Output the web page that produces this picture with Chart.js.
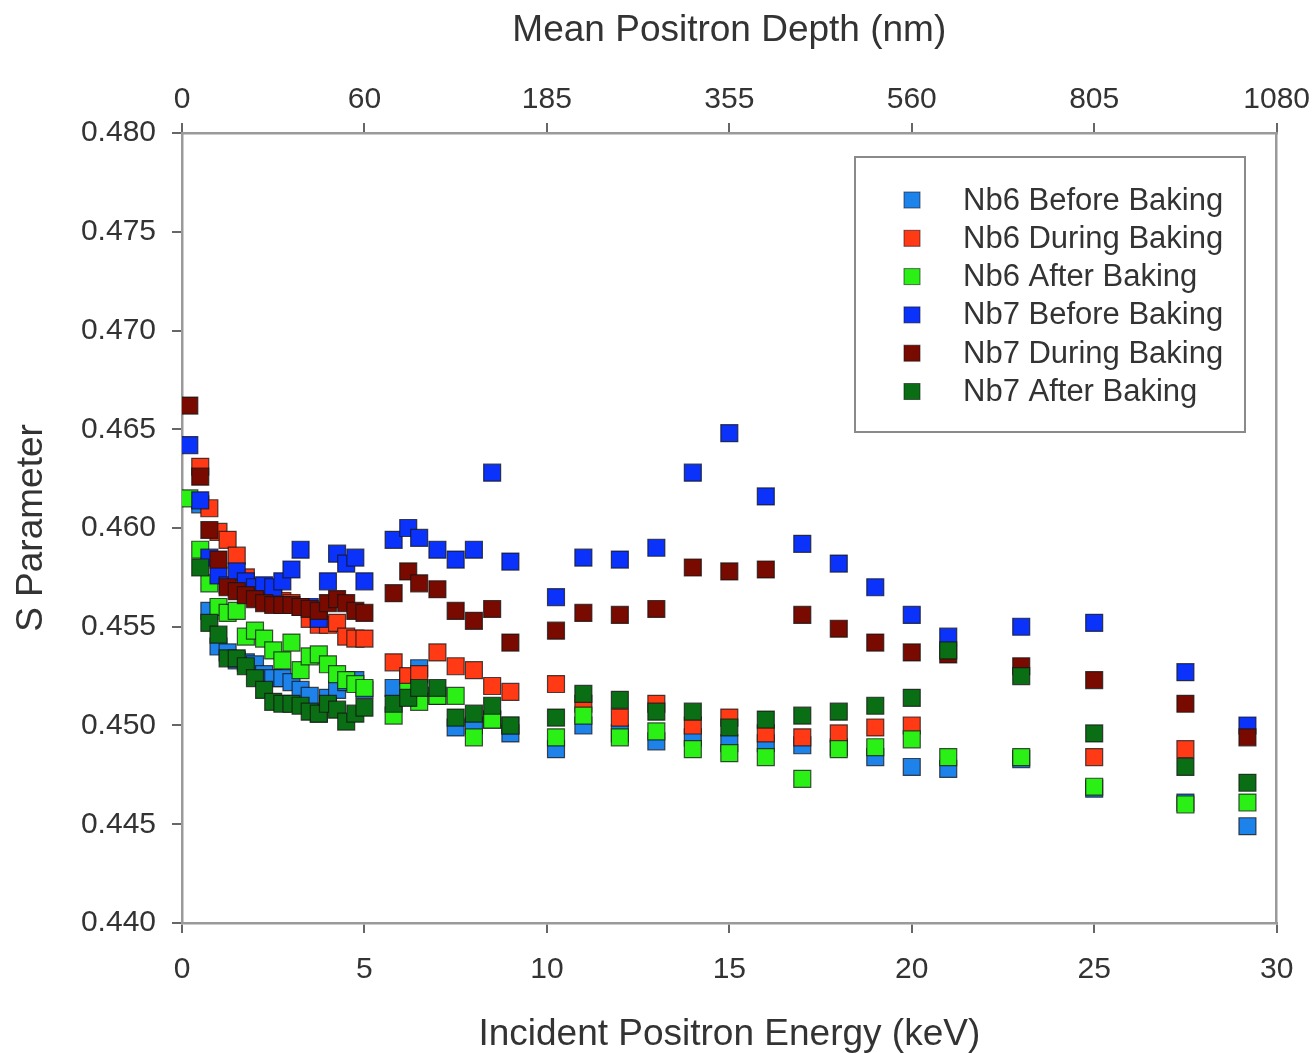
<!DOCTYPE html>
<html>
<head>
<meta charset="utf-8">
<script src="https://cdn.jsdelivr.net/npm/chart.js@4/dist/chart.umd.min.js"></script>
<style>
  html, body { margin: 0; padding: 0; background: #ffffff; }
  canvas { display: block; }
</style>
</head>
<body>
<canvas id="c" width="1315" height="1053"></canvas>
<script>
// ---- data ----
const energyKeV = [0.2, 0.5, 0.75, 1.0, 1.25, 1.5, 1.75, 2.0, 2.25, 2.5, 2.75, 3.0, 3.25, 3.5, 3.75, 4.0, 4.25, 4.5, 4.75, 5.0,
                   5.8, 6.2, 6.5, 7, 7.5, 8, 8.5, 9,
                   10.25, 11, 12, 13, 14, 15, 16, 17, 18, 19, 20, 21, 23, 25, 27.5, 29.2];

const xTickValues = [0, 5, 10, 15, 20, 25, 30];
const depthLabels = ['0', '60', '185', '355', '560', '805', '1080'];

const seriesNames = ['Nb6 Before Baking', 'Nb6 During Baking', 'Nb6 After Baking',
                     'Nb7 Before Baking', 'Nb7 During Baking', 'Nb7 After Baking'];

const nb6Before = [null, 0.4612, 0.4558, 0.4540, 0.4537, 0.4533, 0.4532, 0.4531, 0.4526, 0.4524, 0.4524, 0.4522, 0.4518, 0.4515, 0.4506, 0.4514, 0.4518, 0.4522, 0.4523, 0.4518,
                   0.4519, 0.4524, 0.4529, 0.4515, 0.4499, 0.4500, 0.4503, 0.4496,
                   0.4488, 0.4500, 0.4496, 0.4492, 0.4494, 0.4491, 0.4491, 0.4490, 0.4489, 0.4484, 0.4479, 0.4478, 0.4483, 0.4468, 0.4461, 0.4449];

const nb6During = [null, 0.4631, 0.4610, 0.4598, 0.4594, 0.4586, 0.4575, 0.4568, 0.4566, 0.4565, 0.4563, 0.4562, 0.4560, 0.4554, 0.4551, 0.4551, 0.4552, 0.4545, 0.4544, 0.4544,
                   0.4532, 0.4525, 0.4526, 0.4537, 0.4530, 0.4528, 0.4520, 0.4517,
                   0.4521, 0.4511, 0.4504, 0.4511, 0.4500, 0.4504, 0.4496, 0.4494, 0.4496, 0.4499, 0.4500, null, null, 0.4484, 0.4488, null];

const nb6After = [0.4615, 0.4589, 0.4572, 0.4560, 0.4557, 0.4558, 0.4545, 0.4548, 0.4544, 0.4538, 0.4533, 0.4542, 0.4528, 0.4535, 0.4536, 0.4531, 0.4526, 0.4523, 0.4521, 0.4519,
                  0.4505, 0.4517, 0.4512, 0.4515, 0.4515, 0.4494, 0.4503, 0.4500,
                  0.4494, 0.4505, 0.4494, 0.4497, 0.4488, 0.4486, 0.4484, 0.4473, 0.4488, 0.4489, 0.4493, 0.4484, 0.4484, 0.4469, 0.4460, 0.4461];

const nb7Before = [0.4642, 0.4614, 0.4585, 0.4576, 0.4571, 0.4578, 0.4573, 0.4570, 0.4571, 0.4570, 0.4573, 0.4579, 0.4589, 0.4560, 0.4554, 0.4573, 0.4587, 0.4582, 0.4585, 0.4573,
                   0.4594, 0.4600, 0.4595, 0.4589, 0.4584, 0.4589, 0.4628, 0.4583,
                   0.4565, 0.4585, 0.4584, 0.4590, 0.4628, 0.4648, 0.4616, 0.4592, 0.4582, 0.4570, 0.4556, 0.4545, 0.4550, 0.4552, 0.4527, 0.4500];

const nb7During = [0.4662, 0.4626, 0.4599, 0.4584, 0.4570, 0.4568, 0.4566, 0.4564, 0.4562, 0.4561, 0.4561, 0.4561, 0.4560, 0.4559, 0.4558, 0.4562, 0.4564, 0.4562, 0.4558, 0.4557,
                   0.4567, 0.4578, 0.4572, 0.4569, 0.4558, 0.4553, 0.4559, 0.4542,
                   0.4548, 0.4557, 0.4556, 0.4559, 0.4580, 0.4578, 0.4579, 0.4556, 0.4549, 0.4542, 0.4537, 0.4536, 0.4530, 0.4523, 0.4511, 0.4494];

const nb7After = [null, 0.4580, 0.4552, 0.4546, 0.4534, 0.4534, 0.4530, 0.4524, 0.4518, 0.4512, 0.4511, 0.4511, 0.4510, 0.4507, 0.4506, 0.4511, 0.4508, 0.4502, 0.4506, 0.4509,
                  0.4511, 0.4514, 0.4519, 0.4519, 0.4504, 0.4506, 0.4510, 0.4500,
                  0.4504, 0.4516, 0.4513, 0.4507, 0.4507, 0.4499, 0.4503, 0.4505, 0.4507, 0.4510, 0.4514, 0.4538, 0.4525, 0.4496, 0.4479, 0.4471];

// ---- styling ----
const seriesValues = [nb6Before, nb6During, nb6After, nb7Before, nb7During, nb7After];
const seriesColors = ['#1e82eb', '#ff3a14', '#2af016', '#0a32fa', '#780a00', '#0a6e14'];
const FONT = '"Liberation Sans", Arial, Helvetica, sans-serif';
const TEXT = '#333333';

function toPoints(values) {
  const pts = [];
  values.forEach((v, i) => { if (v !== null) pts.push({ x: energyKeV[i], y: v }); });
  return pts;
}

const datasets = seriesValues.map((vals, i) => ({
  label: seriesNames[i],
  data: toPoints(vals),
  backgroundColor: seriesColors[i],
  borderColor: 'rgba(20,20,20,0.75)',
  borderWidth: 1.2,
  pointStyle: 'rect',
  pointRadius: 12,
  pointHoverRadius: 12,
  order: seriesValues.length - 1 - i,
  xAxisID: 'x',
  yAxisID: 'y'
}));

const boxLegend = {
  id: 'boxLegend',
  afterDatasetsDraw(chart) {
    const ctx = chart.ctx;
    const ca = chart.chartArea;
    const bx = ca.left + 673, by = ca.top + 24, bw = 390, bh = 275;
    ctx.save();
    ctx.fillStyle = '#ffffff';
    ctx.fillRect(bx, by, bw, bh);
    ctx.strokeStyle = '#8a8a8a';
    ctx.lineWidth = 2;
    ctx.strokeRect(bx, by, bw, bh);
    ctx.font = '31px ' + FONT;
    ctx.textBaseline = 'middle';
    ctx.textAlign = 'left';
    chart.data.datasets.forEach((ds, i) => {
      const y = by + 43 + i * 38.3;
      const mx = bx + 57;
      ctx.fillStyle = ds.backgroundColor;
      ctx.fillRect(mx - 8, y - 8, 16, 16);
      ctx.strokeStyle = 'rgba(20,20,20,0.6)';
      ctx.lineWidth = 1;
      ctx.strokeRect(mx - 8, y - 8, 16, 16);
      ctx.fillStyle = TEXT;
      ctx.fillText(ds.label, bx + 108, y + 1);
    });
    ctx.restore();
  }
};

const axisBorder = { display: true, color: '#9a9a9a', width: 2.5 };
const tickGrid = { display: true, drawOnChartArea: false, drawTicks: true, tickLength: 10, color: '#666', lineWidth: 2 };

new Chart(document.getElementById('c'), {
  type: 'scatter',
  data: { datasets },
  options: {
    responsive: false,
    animation: false,
    devicePixelRatio: 1,
    layout: { padding: 0 },
    plugins: { legend: { display: false }, tooltip: { enabled: false } },
    scales: {
      x: {
        type: 'linear', position: 'bottom', min: 0, max: 30,
        afterBuildTicks: (axis) => { axis.ticks = xTickValues.map(v => ({ value: v })); },
        ticks: { font: { family: FONT, size: 30 }, color: TEXT, padding: 19, maxRotation: 0,
                 callback: (v) => String(v) },
        grid: tickGrid, border: axisBorder,
        title: { display: true, text: 'Incident Positron Energy (keV)', color: TEXT,
                 font: { family: FONT, size: 37 }, padding: { top: 0, bottom: -4 } },
        afterFit: (axis) => { axis.height = 130; }
      },
      x2: {
        type: 'linear', position: 'top', min: 0, max: 30,
        afterBuildTicks: (axis) => { axis.ticks = xTickValues.map(v => ({ value: v })); },
        ticks: { font: { family: FONT, size: 30 }, color: TEXT, padding: 5, maxRotation: 0,
                 callback: (v) => depthLabels[xTickValues.indexOf(v)] },
        grid: tickGrid, border: axisBorder,
        title: { display: true, text: 'Mean Positron Depth (nm)', color: TEXT,
                 font: { family: FONT, size: 37 }, padding: { top: 9, bottom: 0 } },
        afterFit: (axis) => { axis.height = 133; }
      },
      y: {
        type: 'linear', position: 'left', min: 0.440, max: 0.480,
        ticks: { stepSize: 0.005, font: { family: FONT, size: 30 }, color: TEXT, padding: 16,
                 callback: (v) => Number(v).toFixed(3) },
        grid: tickGrid, border: axisBorder,
        title: { display: true, text: 'S Parameter', color: TEXT,
                 font: { family: FONT, size: 37 }, padding: { top: 10, bottom: 0 } },
        afterFit: (axis) => { axis.width = 182; }
      },
      y2: {
        type: 'linear', position: 'right', min: 0.440, max: 0.480,
        ticks: { display: false },
        grid: { display: false }, border: axisBorder,
        afterFit: (axis) => { axis.width = 34; }
      }
    }
  },
  plugins: [boxLegend]
});
</script>
</body>
</html>
